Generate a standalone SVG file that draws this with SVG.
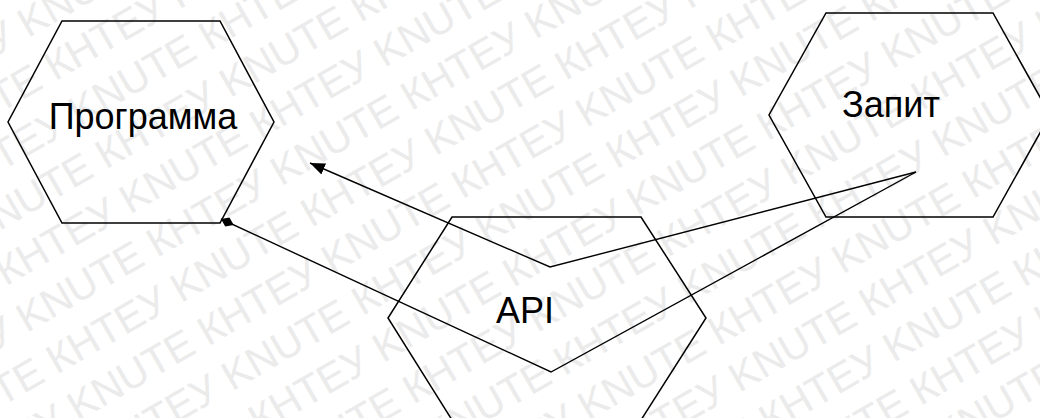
<svg xmlns="http://www.w3.org/2000/svg" width="1040" height="418" viewBox="0 0 1040 418">
<style>
.hex{fill:none;stroke:#000;stroke-width:1.5}
.lbl{font-family:"Liberation Sans",Arial,sans-serif;font-size:36px;fill:#000;text-anchor:middle}
.wm text{font-family:"Liberation Sans",Arial,sans-serif;font-size:41px;fill:#ebebeb}
.con{fill:none;stroke:#000;stroke-width:1.4}
</style>
<defs>
<marker id="arrow" markerUnits="userSpaceOnUse" markerWidth="16" markerHeight="12" refX="15" refY="6" orient="auto">
<path d="M0,0 L15,6 L0,12 z" fill="#000"/>
</marker>
<marker id="diamond" markerUnits="userSpaceOnUse" markerWidth="16" markerHeight="12" refX="14" refY="6" orient="auto">
<path d="M0,6 L7,1 L14,6 L7,11 z" fill="#000"/>
</marker>
</defs>
<rect width="1040" height="418" fill="#fff"/>
<g class="wm" transform="rotate(-30 520 209)">
<text x="-700" y="-440">КНТЕУ KNUTE КНТЕУ KNUTE КНТЕУ KNUTE КНТЕУ KNUTE КНТЕУ KNUTE КНТЕУ KNUTE КНТЕУ KNUTE КНТЕУ KNUTE КНТЕУ KNUTE</text>
<text x="-845" y="-389">КНТЕУ KNUTE КНТЕУ KNUTE КНТЕУ KNUTE КНТЕУ KNUTE КНТЕУ KNUTE КНТЕУ KNUTE КНТЕУ KNUTE КНТЕУ KNUTE КНТЕУ KNUTE</text>
<text x="-700" y="-338">КНТЕУ KNUTE КНТЕУ KNUTE КНТЕУ KNUTE КНТЕУ KNUTE КНТЕУ KNUTE КНТЕУ KNUTE КНТЕУ KNUTE КНТЕУ KNUTE КНТЕУ KNUTE</text>
<text x="-845" y="-287">КНТЕУ KNUTE КНТЕУ KNUTE КНТЕУ KNUTE КНТЕУ KNUTE КНТЕУ KNUTE КНТЕУ KNUTE КНТЕУ KNUTE КНТЕУ KNUTE КНТЕУ KNUTE</text>
<text x="-700" y="-236">КНТЕУ KNUTE КНТЕУ KNUTE КНТЕУ KNUTE КНТЕУ KNUTE КНТЕУ KNUTE КНТЕУ KNUTE КНТЕУ KNUTE КНТЕУ KNUTE КНТЕУ KNUTE</text>
<text x="-845" y="-185">КНТЕУ KNUTE КНТЕУ KNUTE КНТЕУ KNUTE КНТЕУ KNUTE КНТЕУ KNUTE КНТЕУ KNUTE КНТЕУ KNUTE КНТЕУ KNUTE КНТЕУ KNUTE</text>
<text x="-700" y="-134">КНТЕУ KNUTE КНТЕУ KNUTE КНТЕУ KNUTE КНТЕУ KNUTE КНТЕУ KNUTE КНТЕУ KNUTE КНТЕУ KNUTE КНТЕУ KNUTE КНТЕУ KNUTE</text>
<text x="-845" y="-83">КНТЕУ KNUTE КНТЕУ KNUTE КНТЕУ KNUTE КНТЕУ KNUTE КНТЕУ KNUTE КНТЕУ KNUTE КНТЕУ KNUTE КНТЕУ KNUTE КНТЕУ KNUTE</text>
<text x="-700" y="-32">КНТЕУ KNUTE КНТЕУ KNUTE КНТЕУ KNUTE КНТЕУ KNUTE КНТЕУ KNUTE КНТЕУ KNUTE КНТЕУ KNUTE КНТЕУ KNUTE КНТЕУ KNUTE</text>
<text x="-845" y="19">КНТЕУ KNUTE КНТЕУ KNUTE КНТЕУ KNUTE КНТЕУ KNUTE КНТЕУ KNUTE КНТЕУ KNUTE КНТЕУ KNUTE КНТЕУ KNUTE КНТЕУ KNUTE</text>
<text x="-700" y="70">КНТЕУ KNUTE КНТЕУ KNUTE КНТЕУ KNUTE КНТЕУ KNUTE КНТЕУ KNUTE КНТЕУ KNUTE КНТЕУ KNUTE КНТЕУ KNUTE КНТЕУ KNUTE</text>
<text x="-845" y="121">КНТЕУ KNUTE КНТЕУ KNUTE КНТЕУ KNUTE КНТЕУ KNUTE КНТЕУ KNUTE КНТЕУ KNUTE КНТЕУ KNUTE КНТЕУ KNUTE КНТЕУ KNUTE</text>
<text x="-700" y="172">КНТЕУ KNUTE КНТЕУ KNUTE КНТЕУ KNUTE КНТЕУ KNUTE КНТЕУ KNUTE КНТЕУ KNUTE КНТЕУ KNUTE КНТЕУ KNUTE КНТЕУ KNUTE</text>
<text x="-845" y="223">КНТЕУ KNUTE КНТЕУ KNUTE КНТЕУ KNUTE КНТЕУ KNUTE КНТЕУ KNUTE КНТЕУ KNUTE КНТЕУ KNUTE КНТЕУ KNUTE КНТЕУ KNUTE</text>
<text x="-700" y="274">КНТЕУ KNUTE КНТЕУ KNUTE КНТЕУ KNUTE КНТЕУ KNUTE КНТЕУ KNUTE КНТЕУ KNUTE КНТЕУ KNUTE КНТЕУ KNUTE КНТЕУ KNUTE</text>
<text x="-845" y="325">КНТЕУ KNUTE КНТЕУ KNUTE КНТЕУ KNUTE КНТЕУ KNUTE КНТЕУ KNUTE КНТЕУ KNUTE КНТЕУ KNUTE КНТЕУ KNUTE КНТЕУ KNUTE</text>
<text x="-700" y="376">КНТЕУ KNUTE КНТЕУ KNUTE КНТЕУ KNUTE КНТЕУ KNUTE КНТЕУ KNUTE КНТЕУ KNUTE КНТЕУ KNUTE КНТЕУ KNUTE КНТЕУ KNUTE</text>
<text x="-845" y="427">КНТЕУ KNUTE КНТЕУ KNUTE КНТЕУ KNUTE КНТЕУ KNUTE КНТЕУ KNUTE КНТЕУ KNUTE КНТЕУ KNUTE КНТЕУ KNUTE КНТЕУ KNUTE</text>
<text x="-700" y="478">КНТЕУ KNUTE КНТЕУ KNUTE КНТЕУ KNUTE КНТЕУ KNUTE КНТЕУ KNUTE КНТЕУ KNUTE КНТЕУ KNUTE КНТЕУ KNUTE КНТЕУ KNUTE</text>
<text x="-845" y="529">КНТЕУ KNUTE КНТЕУ KNUTE КНТЕУ KNUTE КНТЕУ KNUTE КНТЕУ KNUTE КНТЕУ KNUTE КНТЕУ KNUTE КНТЕУ KNUTE КНТЕУ KNUTE</text>
<text x="-700" y="580">КНТЕУ KNUTE КНТЕУ KNUTE КНТЕУ KNUTE КНТЕУ KNUTE КНТЕУ KNUTE КНТЕУ KNUTE КНТЕУ KNUTE КНТЕУ KNUTE КНТЕУ KNUTE</text>
<text x="-845" y="631">КНТЕУ KNUTE КНТЕУ KNUTE КНТЕУ KNUTE КНТЕУ KNUTE КНТЕУ KNUTE КНТЕУ KNUTE КНТЕУ KNUTE КНТЕУ KNUTE КНТЕУ KNUTE</text>
<text x="-700" y="682">КНТЕУ KNUTE КНТЕУ KNUTE КНТЕУ KNUTE КНТЕУ KNUTE КНТЕУ KNUTE КНТЕУ KNUTE КНТЕУ KNUTE КНТЕУ KNUTE КНТЕУ KNUTE</text>
<text x="-845" y="733">КНТЕУ KNUTE КНТЕУ KNUTE КНТЕУ KNUTE КНТЕУ KNUTE КНТЕУ KNUTE КНТЕУ KNUTE КНТЕУ KNUTE КНТЕУ KNUTE КНТЕУ KNUTE</text>
<text x="-700" y="784">КНТЕУ KNUTE КНТЕУ KNUTE КНТЕУ KNUTE КНТЕУ KNUTE КНТЕУ KNUTE КНТЕУ KNUTE КНТЕУ KNUTE КНТЕУ KNUTE КНТЕУ KNUTE</text>
<text x="-845" y="835">КНТЕУ KNUTE КНТЕУ KNUTE КНТЕУ KNUTE КНТЕУ KNUTE КНТЕУ KNUTE КНТЕУ KNUTE КНТЕУ KNUTE КНТЕУ KNUTE КНТЕУ KNUTE</text>
<text x="-700" y="886">КНТЕУ KNUTE КНТЕУ KNUTE КНТЕУ KNUTE КНТЕУ KNUTE КНТЕУ KNUTE КНТЕУ KNUTE КНТЕУ KNUTE КНТЕУ KNUTE КНТЕУ KNUTE</text>
</g>
<g id="node-programa">
<polygon class="hex" points="62,21 220,21 274,122 220,223 62,223 8,122"/>
<text class="lbl" x="143" y="129">Программа</text>
</g>
<g id="node-zapyt">
<polygon class="hex" points="826,13 993,13 1050,115 993,217 826,217 769,115"/>
<text class="lbl" x="891" y="117">Запит</text>
</g>
<g id="node-api">
<polygon class="hex" points="452,217 641,217 706,318 641,420 452,420 388,318"/>
<text class="lbl" x="525" y="323">API</text>
</g>
<g id="connectors">
<polyline class="con" points="916,172 550,267 310,163" marker-end="url(#arrow)"/>
<polyline class="con" points="916,172 551,372 221,219" marker-end="url(#diamond)"/>
</g>
</svg>
